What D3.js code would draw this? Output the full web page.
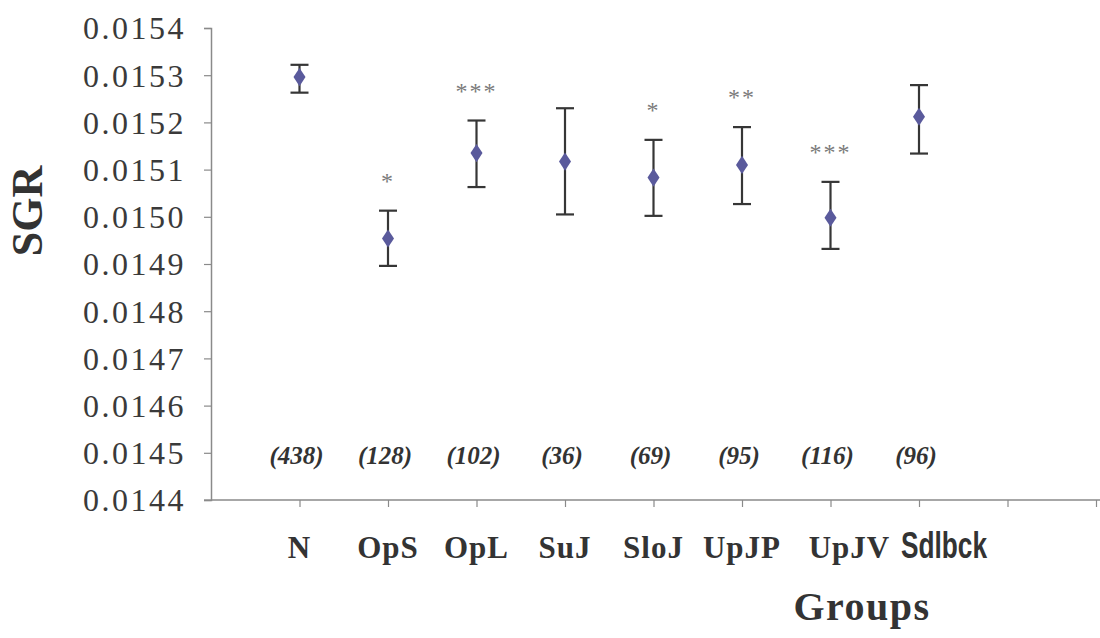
<!DOCTYPE html>
<html>
  <head>
    <meta charset="utf-8">
    <title>SGR by group</title>
    <script type="text/javascript" src="https://cdn.jsdelivr.net/npm/d3@7"></script>
    <style type='text/css'>
      body { margin: 0; background: #fff; }
      svg { display: block; }
    </style>
  </head>
  <body>
    <script type="text/javascript">
      var w = 1100;
      var h = 638;

      // data
      var groups = ['N', 'OpS', 'OpL', 'SuJ', 'SloJ', 'UpJP', 'UpJV', 'Sdlbck'];
      var counts = ['(438)', '(128)', '(102)', '(36)', '(69)', '(95)', '(116)', '(96)'];
      var means = [0.015296, 0.014954, 0.015135, 0.015117, 0.015083, 0.015110, 0.014998, 0.015212];
      var upper = [0.015322, 0.015013, 0.015204, 0.015230, 0.015163, 0.015190, 0.015074, 0.015279];
      var lower = [0.015263, 0.014896, 0.015063, 0.015005, 0.015002, 0.015027, 0.014932, 0.015134];
      var stars = ['', '*', '***', '', '*', '**', '***', ''];
      var yTicks = [0.0144, 0.0145, 0.0146, 0.0147, 0.0148, 0.0149, 0.0150, 0.0151, 0.0152, 0.0153, 0.0154];

      var x0 = 211, y0 = 500, yTop = 28;
      var serif = '"Liberation Serif", "Times New Roman", serif';

      var svg = d3.select('body')
                  .append('svg')
                  .attr('width', w)
                  .attr('height', h);

      var x = d3.scaleLinear().domain([0, 10]).range([x0, 1096]);
      var y = d3.scaleLinear().domain([0.0144, 0.0154]).range([y0, yTop]);

      // y axis
      var yAxis = svg.append('g')
        .attr('transform', 'translate(' + x0 + ',0)')
        .call(d3.axisLeft(y).tickValues(yTicks).tickFormat(d3.format('.4f')).tickSizeOuter(0).tickSize(7).tickPadding(18));
      yAxis.select('.domain').attr('stroke', '#8a8a8a').attr('stroke-width', 1.5);
      yAxis.selectAll('.tick line').attr('stroke', '#8a8a8a').attr('stroke-width', 1.2);
      yAxis.selectAll('.tick text')
        .attr('font-family', serif)
        .attr('font-size', '32px')
        .attr('letter-spacing', '2.5px')
        .attr('fill', '#3a3a3a')
        .attr('dy', '0.34em');

      // x axis
      var xAxis = svg.append('g')
        .attr('transform', 'translate(0,' + y0 + ')')
        .call(d3.axisBottom(x).tickValues(d3.range(1, 11)).tickFormat('').tickSizeOuter(0).tickSize(7));
      xAxis.select('.domain').attr('d', 'M' + x0 + ',0H' + w).attr('stroke', '#8a8a8a').attr('stroke-width', 1.5);
      xAxis.selectAll('.tick line').attr('stroke', '#8a8a8a').attr('stroke-width', 1.2);
      svg.append('line')
        .attr('x1', x0 - 7).attr('x2', x0)
        .attr('y1', y0).attr('y2', y0)
        .attr('stroke', '#8a8a8a').attr('stroke-width', 1.2);

      // error bars
      var bars = svg.append('g').selectAll('g')
        .data(groups)
        .enter()
        .append('g')
        .attr('stroke', '#363636')
        .attr('stroke-width', 2.2);
      bars.append('line')
        .attr('x1', function(d, i) {return x(i + 1);})
        .attr('x2', function(d, i) {return x(i + 1);})
        .attr('y1', function(d, i) {return y(upper[i]);})
        .attr('y2', function(d, i) {return y(lower[i]);});
      bars.append('line')
        .attr('x1', function(d, i) {return x(i + 1) - 9;})
        .attr('x2', function(d, i) {return x(i + 1) + 9;})
        .attr('y1', function(d, i) {return y(upper[i]);})
        .attr('y2', function(d, i) {return y(upper[i]);});
      bars.append('line')
        .attr('x1', function(d, i) {return x(i + 1) - 9;})
        .attr('x2', function(d, i) {return x(i + 1) + 9;})
        .attr('y1', function(d, i) {return y(lower[i]);})
        .attr('y2', function(d, i) {return y(lower[i]);});

      // diamonds
      svg.append('g').selectAll('path')
        .data(means)
        .enter()
        .append('path')
        .attr('d', d3.symbol().type(d3.symbolDiamond).size(95))
        .attr('transform', function(d, i) {return 'translate(' + x(i + 1) + ',' + y(d) + ') scale(1.15,1)';})
        .attr('fill', '#5a5a9c');

      // significance stars
      svg.append('g').selectAll('text')
        .data(stars)
        .enter()
        .append('text')
        .text(function(d) {return d;})
        .attr('x', function(d, i) {return x(i + 1);})
        .attr('y', function(d, i) {return y(upper[i]) - 22;})
        .attr('text-anchor', 'middle')
        .attr('font-family', serif)
        .attr('font-size', '24px')
        .attr('letter-spacing', '2px')
        .attr('fill', '#7a7a7a');

      // sample sizes
      svg.append('g').selectAll('text')
        .data(counts)
        .enter()
        .append('text')
        .text(function(d) {return d;})
        .attr('x', function(d, i) {return x(i + 1) - 3;})
        .attr('y', 464)
        .attr('text-anchor', 'middle')
        .attr('font-family', serif)
        .attr('font-style', 'italic')
        .attr('font-weight', 'bold')
        .attr('font-size', '25px')
        .attr('fill', '#333');

      // group labels
      svg.append('g').selectAll('text')
        .data(groups)
        .enter()
        .append('text')
        .text(function(d) {return d;})
        .attr('x', function(d, i) {return x(i + 1) + (d === 'Sdlbck' ? 25 : (d === 'UpJV' ? 19 : 0));})
        .attr('y', 558)
        .attr('text-anchor', 'middle')
        .attr('font-family', function(d) {return d === 'Sdlbck' ? '"Liberation Sans", Arial, sans-serif' : serif;})
        .attr('font-weight', 'bold')
        .attr('font-size', function(d) {return d === 'Sdlbck' ? '36px' : '31px';})
        .attr('letter-spacing', function(d) {return d === 'Sdlbck' ? '0px' : '1px';})
        .each(function(d) {
          if (d === 'Sdlbck') d3.select(this).attr('textLength', 86).attr('lengthAdjust', 'spacingAndGlyphs');
        })
        .attr('fill', '#333');

      // axis titles
      svg.append('text')
        .text('Groups')
        .attr('x', 862)
        .attr('y', 620)
        .attr('text-anchor', 'middle')
        .attr('font-family', serif)
        .attr('font-weight', 'bold')
        .attr('font-size', '40px')
        .attr('letter-spacing', '1.5px')
        .attr('fill', '#333');

      svg.append('text')
        .text('SGR')
        .attr('transform', 'translate(42,211) rotate(-90)')
        .attr('text-anchor', 'middle')
        .attr('font-family', serif)
        .attr('font-weight', 'bold')
        .attr('font-size', '44px')
        .attr('fill', '#333');
    </script>
  </body>
</html>
